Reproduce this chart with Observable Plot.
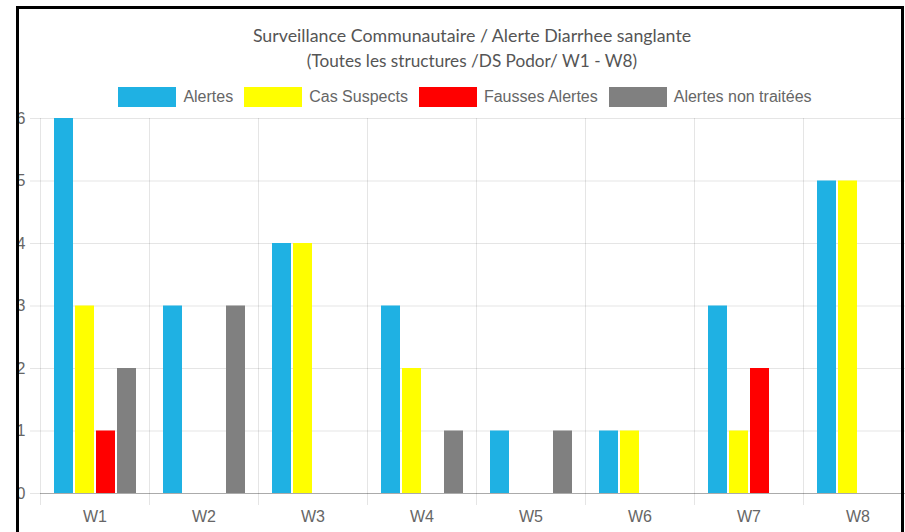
<!DOCTYPE html>
<html>
<head>
<meta charset="utf-8">
<script src="https://cdn.jsdelivr.net/npm/d3@7"></script>
<script src="https://cdn.jsdelivr.net/npm/@observablehq/plot@0.6"></script>
<style>
  html, body { margin: 0; padding: 0; background: #fff; }
  #wrap { position: relative; width: 905px; height: 532px; overflow: hidden; background: #fff; }
  .title { position: absolute; left: 0; width: 944px; text-align: center; font-family: Lato, "Open Sans", sans-serif; color: #555; white-space: nowrap; line-height: 20px; }
  #legend { position: absolute; top: 87px; left: 2px; width: 926px; display: flex; justify-content: center; align-items: center; font-family: "Liberation Sans", Arial, sans-serif; font-size: 16px; color: #666; height: 20px; }
  #legend .item { display: flex; align-items: center; margin: 0 5.5px; }
  #legend .sw { width: 58px; height: 20px; margin-right: 7px; }
  #plot { position: absolute; left: 0; top: 110px; }
  #frame { position: absolute; left: 16px; top: 6px; width: 888px; height: 600px; box-sizing: border-box; border: 3px solid #000; border-bottom: none; pointer-events: none; }
</style>
</head>
<body>
<div id="wrap">
  <div class="title" style="top:25px; font-size:17.8px">Surveillance Communautaire / Alerte Diarrhee sanglante</div>
  <div class="title" style="top:51px; font-size:17.2px">(Toutes les structures /DS Podor/ W1 - W8)</div>
  <div id="legend"></div>
  <div id="plot"></div>
  <div id="frame"></div>
</div>
<script>
const weeks = ["W1", "W2", "W3", "W4", "W5", "W6", "W7", "W8"];
const series = ["Alertes", "Cas Suspects", "Fausses Alertes", "Alertes non traitées"];
const colors = ["#1fb1e3", "#ffff00", "#ff0000", "#808080"];
const alertes        = [6, 3, 4, 3, 1, 1, 3, 5];
const casSuspects    = [3, 0, 4, 2, 0, 1, 1, 5];
const faussesAlertes = [1, 0, 0, 0, 0, 0, 2, 0];
const nonTraitees    = [2, 3, 0, 1, 1, 0, 0, 0];
const yTicks = [0, 1, 2, 3, 4, 5, 6];

const values = [alertes, casSuspects, faussesAlertes, nonTraitees];
const rows = weeks.flatMap((w, i) => series.map((s, j) => ({week: w, serie: s, value: values[j][i]})));

// legend
const legend = document.getElementById("legend");
series.forEach((s, j) => {
  const item = document.createElement("div");
  item.className = "item";
  const sw = document.createElement("div");
  sw.className = "sw";
  sw.style.background = colors[j];
  const t = document.createElement("span");
  t.textContent = s;
  item.appendChild(sw);
  item.appendChild(t);
  legend.appendChild(item);
});

const W = 905, ML = 40, MR = -7;
const bw = (W - ML - MR) / weeks.length;

const chart = Plot.plot({
  width: W,
  height: 422,
  marginTop: 8,
  marginBottom: 39,
  marginLeft: ML,
  marginRight: MR,
  style: {fontFamily: "'Liberation Sans', Arial, sans-serif", fontSize: "16px", color: "#666", background: "white", overflow: "hidden"},
  fx: {domain: weeks, padding: 0, label: null},
  x: {domain: series, paddingInner: 0.1, paddingOuter: 0.55, axis: null},
  y: {domain: [0, 6], label: null},
  color: {domain: series, range: colors},
  marks: [
    Plot.gridY(yTicks, {stroke: "#000", strokeOpacity: 0.1}),
    Plot.gridFx({dx: -bw / 2, insetBottom: -12, stroke: "#000", strokeOpacity: 0.1}),
    Plot.axisY(yTicks, {tickSize: 10, tickPadding: 5, tickFormat: "d", stroke: "#000", strokeOpacity: 0.1, fill: "#666", label: null}),
    Plot.axisFx({anchor: "bottom", tickSize: 0, tickPadding: 17, fill: "#666", label: null}),
    Plot.barY(rows, {fx: "week", x: "serie", y: "value", fill: "serie"}),
    Plot.ruleY([0], {stroke: "#000", strokeOpacity: 0.25})
  ]
});
document.getElementById("plot").appendChild(chart);
</script>
</body>
</html>
